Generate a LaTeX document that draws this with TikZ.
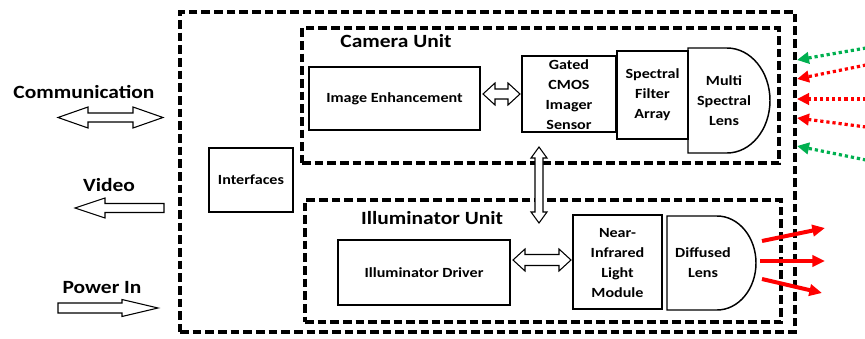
\documentclass[tikz,border=0pt]{standalone}
\usepackage{fontspec}
\setmainfont{Carlito}[FakeStretch=1.15]
\usetikzlibrary{calc,fit,arrows.meta}
\def\pxu{0.75pt}
\definecolor{ored}{RGB}{255,0,0}
\definecolor{ogreen}{RGB}{0,176,80}
\newcommand\blkfont{\fontsize{10.5}{15}\selectfont\bfseries}
\newcommand\lblfont{\fontsize{14}{17}\selectfont\bfseries}
\tikzset{
  unitbox/.style={draw, line width=2.4pt, dash pattern=on 6.5pt off 3pt, inner sep=0pt},
  blk/.style={draw, line width=1.5pt, inner sep=0pt},
  lensline/.style={draw, line width=1.1pt},
  txt/.style={font=\blkfont, align=center, inner sep=0pt},
  lbl/.style={font=\lblfont, inner sep=0pt},
  hollow/.style={draw, fill=white, line width=0.8pt, line join=miter},
  gdot/.style={ogreen, line width=2.4pt, dash pattern=on 2.4pt off 2.2pt, -{Triangle[length=9pt,width=8.5pt]}},
  rdot/.style={ored, line width=2.4pt, dash pattern=on 2.4pt off 2.2pt, -{Triangle[length=9pt,width=8.5pt]}},
  ray/.style={ored, line width=3pt, -{Triangle[length=9.5pt,width=8.5pt]}}
}
% horizontal double-headed hollow arrow: left tip, right tip, shaft half, head half, head length (px)
\newcommand\hbiarrow[5]{%
  \draw[hollow] let \p1=#1, \p2=#2 in
    (\x1,\y1) -- ({\x1+(#5)*\pxu},{\y1+(#4)*\pxu}) -- ({\x1+(#5)*\pxu},{\y1+(#3)*\pxu})
    -- ({\x2-(#5)*\pxu},{\y1+(#3)*\pxu}) -- ({\x2-(#5)*\pxu},{\y1+(#4)*\pxu}) -- (\x2,\y1)
    -- ({\x2-(#5)*\pxu},{\y1-(#4)*\pxu}) -- ({\x2-(#5)*\pxu},{\y1-(#3)*\pxu})
    -- ({\x1+(#5)*\pxu},{\y1-(#3)*\pxu}) -- ({\x1+(#5)*\pxu},{\y1-(#4)*\pxu}) -- cycle;}
% horizontal single hollow arrow: tail, tip, shaft half, head half, signed head length (px)
\newcommand\hsarrow[5]{%
  \draw[hollow] let \p1=#1, \p2=#2 in
    ({\x1},{\y1+(#3)*\pxu}) -- ({\x2-(#5)*\pxu},{\y1+(#3)*\pxu}) -- ({\x2-(#5)*\pxu},{\y1+(#4)*\pxu})
    -- (\x2,\y1) -- ({\x2-(#5)*\pxu},{\y1-(#4)*\pxu}) -- ({\x2-(#5)*\pxu},{\y1-(#3)*\pxu})
    -- ({\x1},{\y1-(#3)*\pxu}) -- cycle;}
% vertical double-headed hollow arrow: top tip, bottom tip, shaft half, head half, head length (px)
\newcommand\vbiarrow[5]{%
  \draw[hollow] let \p1=#1, \p2=#2 in
    (\x1,\y1) -- ({\x1+(#4)*\pxu},{\y1-(#5)*\pxu}) -- ({\x1+(#3)*\pxu},{\y1-(#5)*\pxu})
    -- ({\x1+(#3)*\pxu},{\y2+(#5)*\pxu}) -- ({\x1+(#4)*\pxu},{\y2+(#5)*\pxu}) -- (\x1,\y2)
    -- ({\x1-(#4)*\pxu},{\y2+(#5)*\pxu}) -- ({\x1-(#3)*\pxu},{\y2+(#5)*\pxu})
    -- ({\x1-(#3)*\pxu},{\y1-(#5)*\pxu}) -- ({\x1-(#4)*\pxu},{\y1-(#5)*\pxu}) -- cycle;}
\begin{document}
\begin{tikzpicture}[x=0.75pt,y=-0.75pt]
\useasboundingbox (0,0) rectangle (865,339);
% unit frames
\node[unitbox, fit={(180,12) (795,332)}] (sys) {};
\node[unitbox, fit={(302,28) (779,163)}] (cam) {};
\node[unitbox, fit={(305,200) (781,322)}] (ill) {};
\node[lbl] (camlbl) at (396,41) {Camera Unit};
\node[lbl] (illlbl) at (432,218) {Illuminator Unit};
% blocks
\node[blk, fit={(209,148) (293,212)}] (if) {};
\node[txt] (iftxt) at (if.center) {Interfaces};
\node[blk, fit={(309,67) (480,130)}] (ie) {};
\node[txt] (ietxt) at (ie.center) {Image Enhancement};
\node[blk, fit={(522,56) (616,132)}] (gc) {};
\node[txt] (gctxt) at ($(gc.center)+(0,1)$) {Gated\\CMOS\\Imager\\Sensor};
\node[blk, fit={(617,51) (688,139)}] (sfa) {};
\node[txt] (sfatxt) at (sfa.center) {Spectral\\Filter\\Array};
\node[blk, fit={(338,240) (510,305)}] (drv) {};
\node[txt] (drvtxt) at (drv.center) {Illuminator Driver};
\node[blk, fit={(573,215) (662,309)}] (nir) {};
\node[txt] (nirtxt) at ($(nir.center)+(0,1)$) {Near-\\Infrared\\Light\\Module};
% lenses
\draw[lensline] (688,48) -- (727,48) arc[start angle=90, end angle=-90, x radius=43*\pxu, y radius=52.5*\pxu] -- (688,153) -- cycle;
\node[txt] (msl) at (724,101) {Multi\\Spectral\\Lens};
\draw[lensline] (667,216) -- (717,216) arc[start angle=90, end angle=-90, x radius=39*\pxu, y radius=47*\pxu] -- (667,310) -- cycle;
\node[txt] (dl) at (703,263) {Diffused\\Lens};
% internal hollow arrows
\hbiarrow{($(ie.east |- gc.west)+(2,0)$)}{($(gc.west)+(-1,0)$)}{5}{11}{12}
\hbiarrow{($(drv.east |- nir.west)+(2,-2)$)}{($(nir.west)+(-1,-2)$)}{5.5}{11}{12}
\vbiarrow{($(gc.south west)+(18,14)$)}{($(gc.south west)+(18,90)$)}{4}{8}{11}
% external labels and arrows
\node[lbl] (comm) at (84,92) {Communication};
\node[lbl] (vid) at (109,185) {Video};
\node[lbl] (pow) at (102,288) {Power In};
\coordinate (commL) at (58,117.5);
\coordinate (commR) at (163,117.5);
\coordinate (vidT) at (164,208);
\coordinate (vidH) at (75,208);
\coordinate (powT) at (58,308);
\coordinate (powH) at (158,308);
\hbiarrow{(commL)}{(commR)}{4.5}{10.5}{30}
\hsarrow{(vidT)}{(vidH)}{4.5}{10}{-30}
\hsarrow{(powT)}{(powH)}{5}{8.5}{36}
% incoming light
\coordinate (s1) at (866,48);  \coordinate (e1) at (797,60);
\coordinate (s2) at (866,65);  \coordinate (e2) at (797,79);
\coordinate (s3) at (866,99);  \coordinate (e3) at (797,99);
\coordinate (s4) at (866,127); \coordinate (e4) at (797,118);
\coordinate (s5) at (866,160); \coordinate (e5) at (797,146);
\draw[gdot] (s1) -- (e1);
\draw[rdot] (s2) -- (e2);
\draw[rdot] (s3) -- (e3);
\draw[rdot] (s4) -- (e4);
\draw[gdot] (s5) -- (e5);
% outgoing light
\coordinate (o1) at (762,241); \coordinate (t1) at (825,228);
\coordinate (o2) at (760,261); \coordinate (t2) at (825,261);
\coordinate (o3) at (762,279); \coordinate (t3) at (822,293);
\draw[ray] (o1) -- (t1);
\draw[ray] (o2) -- (t2);
\draw[ray] (o3) -- (t3);
\end{tikzpicture}
\end{document}
